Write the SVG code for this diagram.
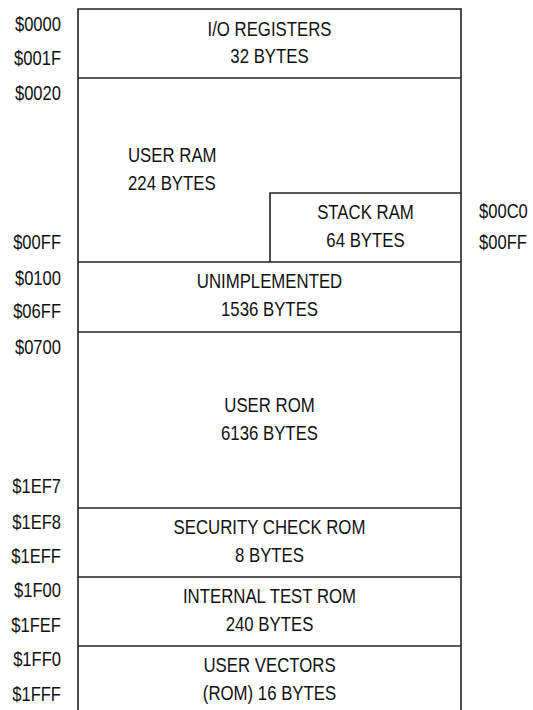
<svg xmlns="http://www.w3.org/2000/svg" width="533" height="710" viewBox="0 0 533 710">
<style>
.ln{stroke:#222;stroke-width:1.6;fill:none}
text{font-family:"Liberation Sans",Arial,sans-serif;fill:#111}
.b{font-size:20px;text-anchor:middle}
.bl{font-size:20px;text-anchor:start}
.a{font-size:19.5px;text-anchor:end}
.ar{font-size:19.5px;text-anchor:start}
</style>
<rect width="533" height="710" fill="#fff"/>
<g id="frame">
<path class="ln" d="M78,710 V9 H461 V710"/>
</g>
<g id="connectors"></g>
<g id="io-registers">
<path class="ln" d="M78,78 H461"/>
<text class="b" transform="translate(269.5,36) scale(0.84,1)">I/O REGISTERS</text>
<text class="b" transform="translate(269.5,63) scale(0.84,1)">32 BYTES</text>
</g>
<g id="user-ram">
<text class="bl" transform="translate(128,162) scale(0.84,1)">USER RAM</text>
<text class="bl" transform="translate(128,190) scale(0.84,1)">224 BYTES</text>
</g>
<g id="stack-ram">
<path class="ln" d="M270,262 V193 H461"/>
<text class="b" transform="translate(365.5,219) scale(0.84,1)">STACK RAM</text>
<text class="b" transform="translate(365.5,247) scale(0.84,1)">64 BYTES</text>
</g>
<g id="unimplemented">
<path class="ln" d="M78,262 H461"/>
<text class="b" transform="translate(269.5,288) scale(0.84,1)">UNIMPLEMENTED</text>
<text class="b" transform="translate(269.5,316) scale(0.84,1)">1536 BYTES</text>
</g>
<g id="user-rom">
<path class="ln" d="M78,332 H461"/>
<text class="b" transform="translate(269.5,412) scale(0.84,1)">USER ROM</text>
<text class="b" transform="translate(269.5,440) scale(0.84,1)">6136 BYTES</text>
</g>
<g id="security-rom">
<path class="ln" d="M78,508 H461"/>
<text class="b" transform="translate(269.5,534) scale(0.84,1)">SECURITY CHECK ROM</text>
<text class="b" transform="translate(269.5,562) scale(0.84,1)">8 BYTES</text>
</g>
<g id="test-rom">
<path class="ln" d="M78,577 H461"/>
<text class="b" transform="translate(269.5,603) scale(0.84,1)">INTERNAL TEST ROM</text>
<text class="b" transform="translate(269.5,631) scale(0.84,1)">240 BYTES</text>
</g>
<g id="user-vectors">
<path class="ln" d="M78,646 H461"/>
<text class="b" transform="translate(269.5,672) scale(0.84,1)">USER VECTORS</text>
<text class="b" transform="translate(269.5,700) scale(0.84,1)">(ROM) 16 BYTES</text>
</g>
<g id="addresses">
<text class="a" transform="translate(61,31) scale(0.85,1)">$0000</text>
<text class="a" transform="translate(61,65) scale(0.85,1)">$001F</text>
<text class="a" transform="translate(61,100) scale(0.85,1)">$0020</text>
<text class="a" transform="translate(61,249) scale(0.85,1)">$00FF</text>
<text class="a" transform="translate(61,285) scale(0.85,1)">$0100</text>
<text class="a" transform="translate(61,318) scale(0.85,1)">$06FF</text>
<text class="a" transform="translate(61,354) scale(0.85,1)">$0700</text>
<text class="a" transform="translate(61,493) scale(0.85,1)">$1EF7</text>
<text class="a" transform="translate(61,529) scale(0.85,1)">$1EF8</text>
<text class="a" transform="translate(61,563) scale(0.85,1)">$1EFF</text>
<text class="a" transform="translate(61,597) scale(0.85,1)">$1F00</text>
<text class="a" transform="translate(61,632) scale(0.85,1)">$1FEF</text>
<text class="a" transform="translate(61,666) scale(0.85,1)">$1FF0</text>
<text class="a" transform="translate(61,701) scale(0.85,1)">$1FFF</text>
<text class="ar" transform="translate(479,218) scale(0.85,1)">$00C0</text>
<text class="ar" transform="translate(479,249) scale(0.85,1)">$00FF</text>
</g>
</svg>
